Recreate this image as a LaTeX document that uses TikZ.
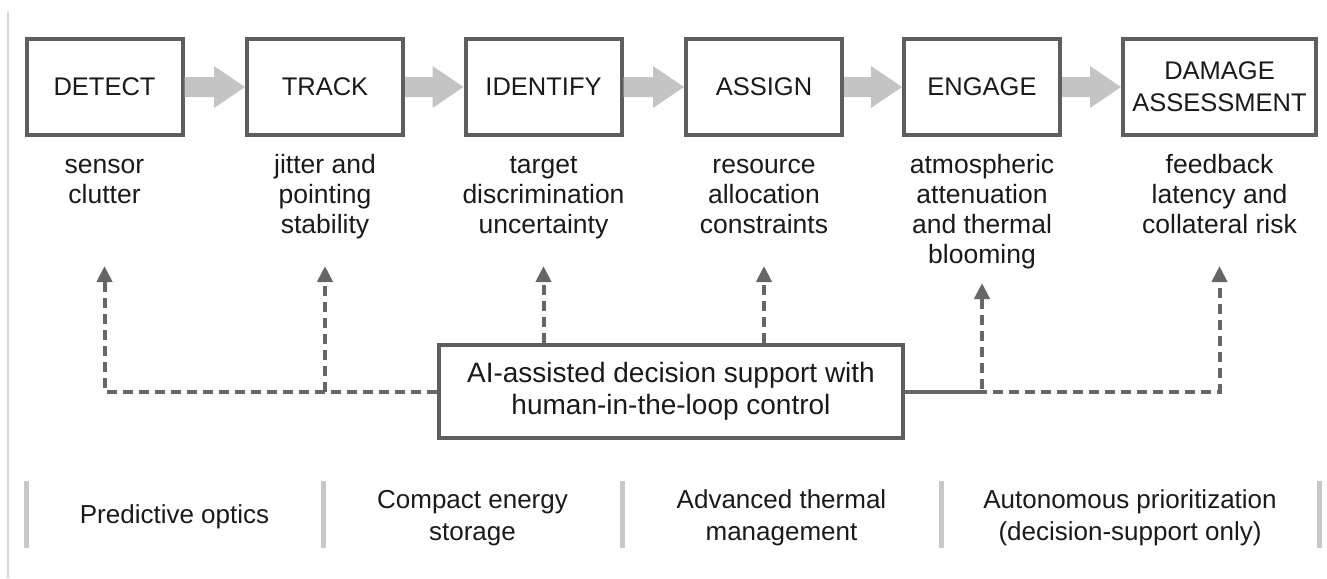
\documentclass[tikz,border=0pt]{standalone}
\usepackage{fontspec}
\setmainfont{Liberation Sans}
\usetikzlibrary{arrows.meta,calc}
\definecolor{boxc}{HTML}{5E5E5E}
\definecolor{flowc}{HTML}{C4C4C4}
\definecolor{dashc}{HTML}{666666}
\definecolor{sepc}{HTML}{C8C8C8}
\definecolor{edgec}{HTML}{D8D8D8}
\definecolor{txt}{HTML}{1A1A1A}
\begin{document}
\begin{tikzpicture}[x=1pt,y=-1pt,
  stage/.style={draw=boxc, line width=4pt, fill=white, minimum height=96pt,
    minimum width=156pt, align=center, inner sep=0pt, text=txt,
    font=\fontsize{25.5}{32}\selectfont},
  note/.style={anchor=base, align=center, inner sep=0pt, text=txt,
    font=\fontsize{26.5}{30}\selectfont},
  aibox/.style={draw=boxc, line width=4pt, fill=white, minimum height=93pt,
    minimum width=464pt, align=center, inner sep=0pt, text=txt,
    font=\fontsize{28}{32}\selectfont},
  tech/.style={anchor=base, align=center, inner sep=0pt, text=txt,
    font=\fontsize{26}{32}\selectfont},
  flow/.style={fill=flowc, draw=none},
  ctrl/.style={draw=dashc, line width=4pt, dash pattern=on 10pt off 6pt,
    -{Triangle[width=15pt,length=16pt]}},
  sepbar/.style={draw=sepc, line width=5pt},
]
\useasboundingbox (0,0) rectangle (1327,578);
% left edge line
\draw[edgec, line width=2pt] (8,12) -- (8,578);

% stages
\node[stage] (s1) at (104.5,87) {DETECT};
\node[stage] (s2) at (325,87) {TRACK};
\node[stage] (s3) at (543.5,87) {IDENTIFY};
\node[stage] (s4) at (764,87) {ASSIGN};
\node[stage] (s5) at (982,87) {ENGAGE};
\node[stage, minimum width=193pt] (s6) at (1219.5,87) {DAMAGE\\ASSESSMENT};

% flow arrows
\foreach \a/\b in {s1/s2,s2/s3,s3/s4,s4/s5,s5/s6}{
  \fill[flow] ($(\a.east)+(0,-10)$) -- ($(\b.west)+(-31,-10)$) -- ($(\b.west)+(-31,-21)$)
    -- (\b.west) -- ($(\b.west)+(-31,21)$) -- ($(\b.west)+(-31,10)$) -- ($(\a.east)+(0,10)$) -- cycle;
}

% labels under stages (anchor = baseline of the last line)
\coordinate (lab2) at (0,203);
\coordinate (lab3) at (0,233);
\coordinate (lab4) at (0,263);
\node[note] (l1) at (s1 |- lab2) {sensor\\clutter};
\node[note] (l2) at (s2 |- lab3) {jitter and\\pointing\\stability};
\node[note] (l3) at (s3 |- lab3) {target\\discrimination\\uncertainty};
\node[note] (l4) at (s4 |- lab3) {resource\\allocation\\constraints};
\node[note] (l5) at (s5 |- lab4) {atmospheric\\attenuation\\and thermal\\blooming};
\node[note] (l6) at (s6 |- lab3) {feedback\\latency and\\collateral risk};

% AI box
\node[aibox] (ai) at (671,391.5) {AI-assisted decision support with\\human-in-the-loop control};

% control arrows
\coordinate (tipy) at (0,266);
\coordinate (tipe) at (0,283);
\draw[ctrl] (ai.west) -| (s1 |- tipy);
\draw[ctrl] (ai.west) -| (s2 |- tipy);
\draw[ctrl] (ai.north -| s3) -- (s3 |- tipy);
\draw[ctrl] (ai.north -| s4) -- (s4 |- tipy);
\draw[ctrl] (ai.east) -| (s5 |- tipe);
\draw[ctrl, dash phase=8pt] (ai.east) -| (s6 |- tipy);

% technology bar
\foreach \x in {26,323,622,941,1319}{
  \draw[sepbar] (\x,481) -- (\x,548);
}
\node[tech] (t1) at (174.5,523) {Predictive optics};
\node[tech] (t2) at (472.5,540) {Compact energy\\storage};
\node[tech] (t3) at (781.5,540) {Advanced thermal\\management};
\node[tech] (t4) at (1130,540) {Autonomous prioritization\\(decision-support only)};
\end{tikzpicture}
\end{document}
